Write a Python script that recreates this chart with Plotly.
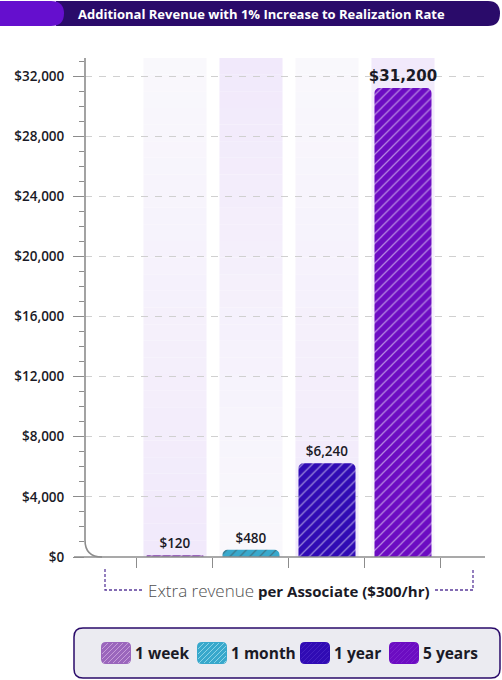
import plotly.graph_objects as go

# ---- data ----
categories = ["1 week", "1 month", "1 year", "5 years"]
values = [120, 480, 6240, 31200]
y_tick_values = [0, 4000, 8000, 12000, 16000, 20000, 24000, 28000, 32000]
y_tick_labels = ["$0", "$4,000", "$8,000", "$12,000", "$16,000", "$20,000",
                 "$24,000", "$28,000", "$32,000"]
title_text = "Additional Revenue with 1% Increase to Realization Rate"
x_title_light = "Extra revenue"
x_title_bold = "per Associate ($300/hr)"

# ---- style ----
bar_colors = ["#9a66bc", "#38a8cc", "#300bb4", "#6c0cc2"]
stripe_colors = ["rgba(255,225,255,0.45)", "rgba(220,255,255,0.5)",
                 "rgba(170,140,255,0.16)", "rgba(200,150,255,0.16)"]
FONT = "Open Sans"
W, H = 502, 680
L, R, T, B = 85, 485, 58, 557  # plot area in page pixels
YMAX = 33200
XMIN, XMAX = -1.184, 4.079


def px(x):
    return (x - L) / (R - L)


def py(y):
    return (B - y) / (B - T)


def to_path(pts):
    out = []
    for p in pts:
        c = p[0]
        coords = p[1:]
        s = []
        for i in range(0, len(coords), 2):
            s.append(f"{px(coords[i]):.5f},{py(coords[i+1]):.5f}")
        out.append(c + " " + " ".join(s))
    return " ".join(out)


def rrect(x0, y0, x1, y1, r):
    pts = [
        ("M", x0 + r, y0), ("L", x1 - r, y0), ("Q", x1, y0, x1, y0 + r),
        ("L", x1, y1 - r), ("Q", x1, y1, x1 - r, y1), ("L", x0 + r, y1),
        ("Q", x0, y1, x0, y1 - r), ("L", x0, y0 + r), ("Q", x0, y0, x0 + r, y0),
    ]
    return to_path(pts) + " Z"


fig = go.Figure()

# background column bands (vertical gradient via slices)
shapes = []
N = 30
light = (249, 248, 252)
lav = (241, 233, 251)
for i, _ in enumerate(categories):
    top, bot = (light, lav) if i % 2 == 0 else (lav, light)
    for k in range(N):
        t = (k + 0.5) / N
        c = tuple(int(round(bot[j] + (top[j] - bot[j]) * t)) for j in range(3))
        shapes.append(dict(type="rect", xref="x", yref="y", layer="below",
                           x0=i - 0.415, x1=i + 0.415,
                           y0=YMAX * k / N, y1=YMAX * (k + 1) / N,
                           fillcolor=f"rgb{c}", line=dict(width=0)))

texts, sizes, fams = [], [], []
for i, v in enumerate(values):
    s = f"${v:,}"
    if i == len(values) - 1:
        texts.append(f"<b>{s}</b>")
        sizes.append(15)
        fams.append("DejaVu Sans")
    else:
        texts.append(s)
        sizes.append(13.5)
        fams.append(FONT)

fig.add_trace(go.Bar(
    x=list(range(len(categories))), y=values, width=0.75,
    marker=dict(color=bar_colors, cornerradius=5, line=dict(width=0),
                pattern=dict(shape="/", fgcolor=stripe_colors, size=7,
                             solidity=0.18, fillmode="overlay")),
    text=texts, textposition="outside", cliponaxis=False, constraintext="none",
    textfont=dict(family=fams, size=sizes, color="#1a1a26", weight=600),
    hoverinfo="skip", name="",
))

axis_col = "#8c8c8c"
# baseline and curved y axis
shapes.append(dict(type="line", xref="paper", yref="paper", layer="above",
                   x0=px(74), x1=px(485), y0=py(B), y1=py(B),
                   line=dict(color=axis_col, width=1.5)))
shapes.append(dict(type="path", xref="paper", yref="paper", layer="above",
                   path=to_path([("M", L, T), ("L", L, B - 17), ("Q", L, B, L + 17, B)]),
                   line=dict(color=axis_col, width=1.6)))

# title bar
shapes.append(dict(type="path", xref="paper", yref="paper", layer="above",
                   path=to_path([("M", 56, 1), ("L", 488, 1), ("Q", 500, 1, 500, 13.5),
                                 ("Q", 500, 26, 488, 26), ("L", 56, 26)]) + " Z",
                   fillcolor="#2a0b6a", line=dict(width=0)))
shapes.append(dict(type="path", xref="paper", yref="paper", layer="above",
                   path=to_path([("M", 0, 1), ("L", 51, 1), ("Q", 64, 1, 64, 13.5),
                                 ("Q", 64, 26, 51, 26), ("L", 0, 26)]) + " Z",
                   fillcolor="#650fce", line=dict(width=0)))

# bracket around x title
br_col = "#5b3b9b"
shapes.append(dict(type="path", xref="paper", yref="paper", layer="above",
                   path=to_path([("M", 105, 569), ("L", 105, 590), ("L", 143, 590)]),
                   line=dict(color=br_col, width=1.3, dash="3px,2px")))
shapes.append(dict(type="path", xref="paper", yref="paper", layer="above",
                   path=to_path([("M", 435, 590), ("L", 473, 590), ("L", 473, 569)]),
                   line=dict(color=br_col, width=1.3, dash="3px,2px")))

# legend box
shapes.append(dict(type="path", xref="paper", yref="paper", layer="above",
                   path=rrect(74, 628, 500, 678, 9),
                   fillcolor="#ebebf1", line=dict(color="#2a0b6a", width=1.5)))

annotations = []
sw_x = [101, 197, 300, 389]
sw_y0, sw_y1, sw_w = 642, 664, 30
for i, name in enumerate(categories):
    x0 = sw_x[i]
    x1 = x0 + sw_w
    shapes.append(dict(type="path", xref="paper", yref="paper", layer="above",
                       path=rrect(x0, sw_y0, x1, sw_y1, 5),
                       fillcolor=bar_colors[i], line=dict(width=0)))
    segs = []
    c = x0 + sw_y0 + 3
    while c < x1 + sw_y1:
        xa = max(x0 + 1, c - (sw_y1 - 1))
        xb = min(x1 - 1, c - (sw_y0 + 1))
        if xb - xa > 1:
            segs.append(("M", xa, c - xa))
            segs.append(("L", xb, c - xb))
        c += 5
    shapes.append(dict(type="path", xref="paper", yref="paper", layer="above",
                       path=to_path(segs), line=dict(color=stripe_colors[i], width=1)))
    annotations.append(dict(xref="paper", yref="paper", x=px(x1 + 2), y=py(653),
                            xanchor="left", yanchor="middle", showarrow=False,
                            text=f"<b>{name}</b>",
                            font=dict(family=FONT, size=15.5, color="#1a1a26")))

annotations.append(dict(xref="paper", yref="paper", x=px(261), y=py(14),
                        xanchor="center", yanchor="middle", showarrow=False,
                        text=f"<b>{title_text}</b>",
                        font=dict(family=FONT, size=13, color="white")))
annotations.append(dict(xref="paper", yref="paper", x=px(289), y=py(590),
                        xanchor="center", yanchor="middle", showarrow=False,
                        text=(f"<span style='color:#505050;font-weight:300;font-size:17px'>"
                              f"{x_title_light}</span> <b>{x_title_bold}</b>"),
                        font=dict(family=FONT, size=15, color="#1a1a26")))

fig.update_layout(
    width=W, height=H,
    margin=dict(l=L, r=W - R, t=T, b=H - B, pad=0),
    paper_bgcolor="white", plot_bgcolor="white",
    showlegend=False, barmode="overlay",
    shapes=shapes, annotations=annotations,
    font=dict(family=FONT),
    xaxis=dict(range=[XMIN, XMAX], showgrid=False, zeroline=False, showline=False,
               tickvals=[i - 0.5 for i in range(len(categories) + 1)],
               showticklabels=False, ticks="outside", ticklen=10,
               tickcolor=axis_col, tickwidth=1.3, fixedrange=True),
    yaxis=dict(range=[0, YMAX], tickvals=y_tick_values, ticktext=y_tick_labels,
               showgrid=True, gridcolor="#d0d0d0", gridwidth=1.3, griddash="7px,7px",
               zeroline=False, showline=False,
               ticks="outside", ticklen=11, tickcolor=axis_col, tickwidth=1.3,
               ticklabelstandoff=6,
               minor=dict(dtick=1000, ticks="outside", ticklen=5,
                          tickcolor=axis_col, tickwidth=1, showgrid=False),
               tickfont=dict(family=FONT, size=13.5, color="#1a1a26", weight=600),
               fixedrange=True),
)

fig.write_html("out.html", config={"displayModeBar": False},
               post_script="document.body.style.margin='0';document.body.style.padding='0';")
